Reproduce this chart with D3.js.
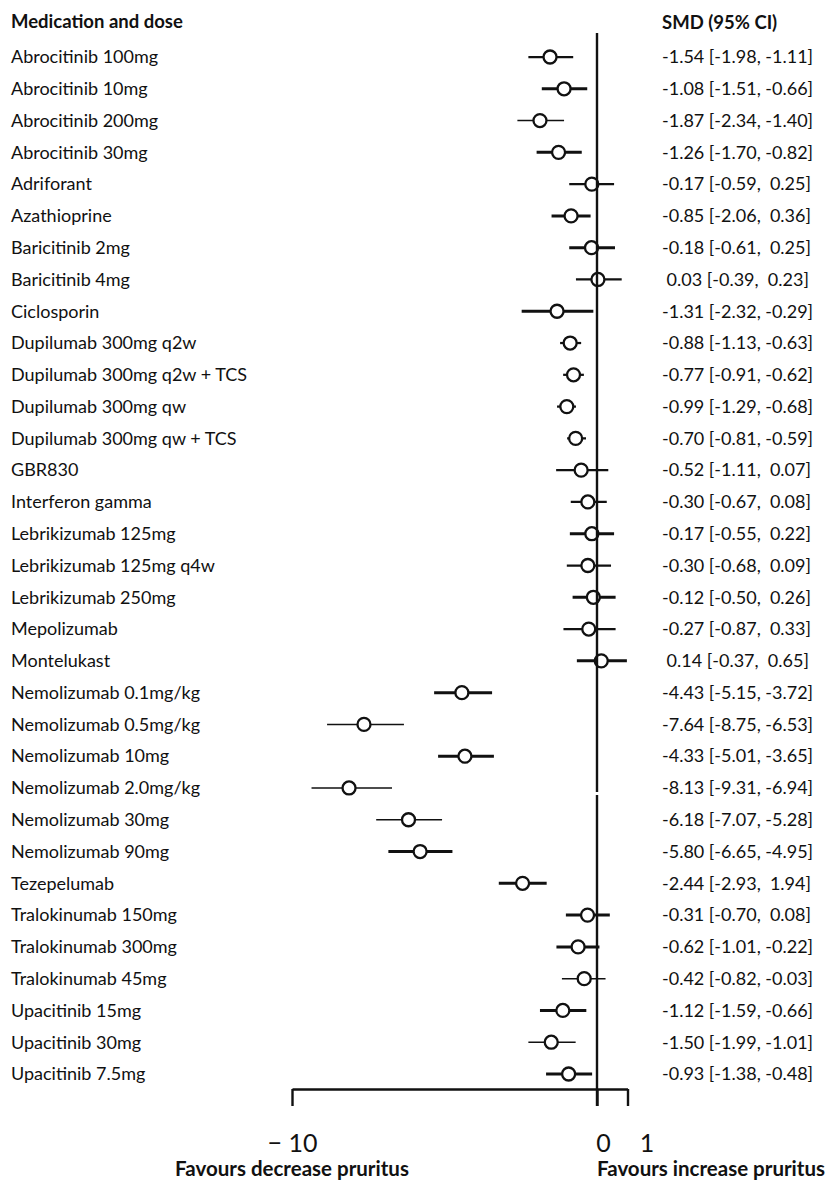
<!DOCTYPE html>
<html>
<head>
<meta charset="utf-8">
<script src="https://cdn.jsdelivr.net/npm/d3@7"></script>
<style>
  html, body { margin: 0; padding: 0; background: #fff; }
  svg { display: block; }
  text { font-family: Lato, "Open Sans", sans-serif; fill: #111; white-space: pre; }
</style>
</head>
<body>
<div id="app"></div>
<script>
// medications, one row each
var names = [
  'Abrocitinib 100mg', 'Abrocitinib 10mg', 'Abrocitinib 200mg', 'Abrocitinib 30mg',
  'Adriforant', 'Azathioprine', 'Baricitinib 2mg', 'Baricitinib 4mg', 'Ciclosporin',
  'Dupilumab 300mg q2w', 'Dupilumab 300mg q2w + TCS', 'Dupilumab 300mg qw',
  'Dupilumab 300mg qw + TCS', 'GBR830', 'Interferon gamma', 'Lebrikizumab 125mg',
  'Lebrikizumab 125mg q4w', 'Lebrikizumab 250mg', 'Mepolizumab', 'Montelukast',
  'Nemolizumab 0.1mg/kg', 'Nemolizumab 0.5mg/kg', 'Nemolizumab 10mg',
  'Nemolizumab 2.0mg/kg', 'Nemolizumab 30mg', 'Nemolizumab 90mg', 'Tezepelumab',
  'Tralokinumab 150mg', 'Tralokinumab 300mg', 'Tralokinumab 45mg',
  'Upacitinib 15mg', 'Upacitinib 30mg', 'Upacitinib 7.5mg'
];

// printed SMD and 95% CI
var smd = [-1.54, -1.08, -1.87, -1.26, -0.17, -0.85, -0.18, 0.03, -1.31, -0.88, -0.77, -0.99,
  -0.70, -0.52, -0.30, -0.17, -0.30, -0.12, -0.27, 0.14, -4.43, -7.64, -4.33, -8.13, -6.18,
  -5.80, -2.44, -0.31, -0.62, -0.42, -1.12, -1.50, -0.93];
var ciLow = [-1.98, -1.51, -2.34, -1.70, -0.59, -2.06, -0.61, -0.39, -2.32, -1.13, -0.91, -1.29,
  -0.81, -1.11, -0.67, -0.55, -0.68, -0.50, -0.87, -0.37, -5.15, -8.75, -5.01, -9.31, -7.07,
  -6.65, -2.93, -0.70, -1.01, -0.82, -1.59, -1.99, -1.38];
var ciHigh = [-1.11, -0.66, -1.40, -0.82, 0.25, 0.36, 0.25, 0.23, -0.29, -0.63, -0.62, -0.68,
  -0.59, 0.07, 0.08, 0.22, 0.09, 0.26, 0.33, 0.65, -3.72, -6.53, -3.65, -6.94, -5.28,
  -4.95, 1.94, 0.08, -0.22, -0.03, -0.66, -1.01, -0.48];

// whisker ends as drawn in the plot
var barLow = [-2.25, -1.81, -2.61, -1.98, -0.91, -1.49, -0.91, -0.69, -2.47, -1.21, -1.11, -1.31,
  -0.98, -1.34, -0.86, -0.89, -0.99, -0.80, -1.10, -0.66, -5.34, -8.85, -5.21, -9.36, -7.24,
  -6.84, -3.22, -1.02, -1.33, -1.15, -1.87, -2.25, -1.67];
var barHigh = [-0.78, -0.32, -1.08, -0.50, 0.56, -0.21, 0.59, 0.81, -0.12, -0.52, -0.43, -0.69,
  -0.36, 0.37, 0.32, 0.56, 0.46, 0.61, 0.61, 0.98, -3.44, -6.33, -3.38, -6.72, -5.08,
  -4.74, -1.65, 0.42, 0.08, 0.28, -0.35, -0.70, -0.16];
// relative weight (1 low .. 3 high)
var weight = [2, 3, 1, 3, 2, 3, 3, 2, 3, 2, 2, 2, 2, 2, 2, 3, 2, 3, 2, 3, 3, 1, 3, 1, 1, 3, 3,
  3, 3, 1, 3, 1, 3];

var axisTicks = [-10, 0, 1];

var width = 829, height = 1182;

var svg = d3.select('#app')
  .append('svg')
  .attr('width', width)
  .attr('height', height);

var x = d3.scaleLinear().domain([-10, 1]).range([292, 627.5]);
var y = d3.scalePoint().domain(names).range([57, 1074]);
var lw = d3.scaleLinear().domain([1, 3]).range([1.5, 3]);

var rows = names.map(function (n, i) {
  return {name: n, smd: smd[i], lo: ciLow[i], hi: ciHigh[i], bLo: barLow[i], bHi: barHigh[i], w: weight[i]};
});

// hyphen for negatives, a space in front of positives (keeps columns lined up)
var fmt = function (v) {
  return (v < 0 ? '-' : ' ') + Math.abs(v).toFixed(2);
};

// headers
svg.append('text')
  .attr('x', 11).attr('y', 22).attr('dy', '0.35em')
  .style('font-size', '18.5px').style('font-weight', 700)
  .text('Medication and dose');
svg.append('text')
  .attr('x', 662).attr('y', 23).attr('dy', '0.35em')
  .style('font-size', '18.5px').style('font-weight', 700)
  .text('SMD (95% CI)');

// row labels
svg.append('g').selectAll('text')
  .data(rows)
  .enter()
  .append('text')
  .attr('x', 11)
  .attr('y', function (d) { return y(d.name) })
  .attr('dy', '0.35em')
  .style('font-size', '18px')
  .text(function (d) { return d.name });

svg.append('g').selectAll('text')
  .data(rows)
  .enter()
  .append('text')
  .attr('x', 662)
  .attr('y', function (d) { return y(d.name) })
  .attr('dy', '0.35em')
  .style('font-size', '18px')
  .text(function (d) { return fmt(d.smd) + ' [' + fmt(d.lo) + ', ' + fmt(d.hi) + ']' });

// whiskers
var marks = svg.append('g');
marks.selectAll('line')
  .data(rows)
  .enter()
  .append('line')
  .attr('x1', function (d) { return x(d.bLo) })
  .attr('x2', function (d) { return x(d.bHi) })
  .attr('y1', function (d) { return y(d.name) })
  .attr('y2', function (d) { return y(d.name) })
  .attr('stroke', '#111')
  .attr('stroke-width', function (d) { return lw(d.w) });

marks.selectAll('circle')
  .data(rows)
  .enter()
  .append('circle')
  .attr('cx', function (d) { return x(d.smd) })
  .attr('cy', function (d) { return y(d.name) })
  .attr('r', 6.5)
  .attr('fill', 'white')
  .attr('stroke', '#111')
  .attr('stroke-width', 2.3);

// line of no effect, broken just below Nemolizumab 2.0mg/kg
var gapY = y('Nemolizumab 2.0mg/kg') + 4;
svg.append('line')
  .attr('x1', x(0)).attr('x2', x(0))
  .attr('y1', 33).attr('y2', gapY)
  .attr('stroke', '#111').attr('stroke-width', 2.4);
svg.append('line')
  .attr('x1', x(0)).attr('x2', x(0))
  .attr('y1', gapY + 3).attr('y2', 1106)
  .attr('stroke', '#111').attr('stroke-width', 2.4);

// bottom axis
var axis = svg.append('g')
  .attr('transform', 'translate(0,1089)')
  .call(d3.axisBottom(x).tickValues(axisTicks).tickSize(17).tickSizeOuter(0)
    .tickFormat(function (d) { return d < 0 ? '\u2212 ' + Math.abs(d) : d }));
axis.select('.domain').attr('stroke', '#111').attr('stroke-width', 2.4);
axis.selectAll('.tick line').attr('stroke', '#111').attr('stroke-width', 2.4);
axis.selectAll('.tick text')
  .attr('y', 54)
  .attr('dy', '0.35em')
  .attr('dx', function (d) { return d === 0 ? 6 : d === 1 ? 19 : 0 })
  .style('font-size', '25px')
  .style('font-family', 'Lato, sans-serif')
  .style('white-space', 'pre')
  .attr('fill', '#111');

// favours labels
svg.append('text')
  .attr('x', x(-10)).attr('y', 1176)
  .attr('text-anchor', 'middle')
  .style('font-size', '20.5px').style('font-weight', 700)
  .text('Favours decrease pruritus');
svg.append('text')
  .attr('x', x(0)).attr('y', 1176)
  .style('font-size', '20.5px').style('font-weight', 700)
  .text('Favours increase pruritus');
</script>
</body>
</html>
